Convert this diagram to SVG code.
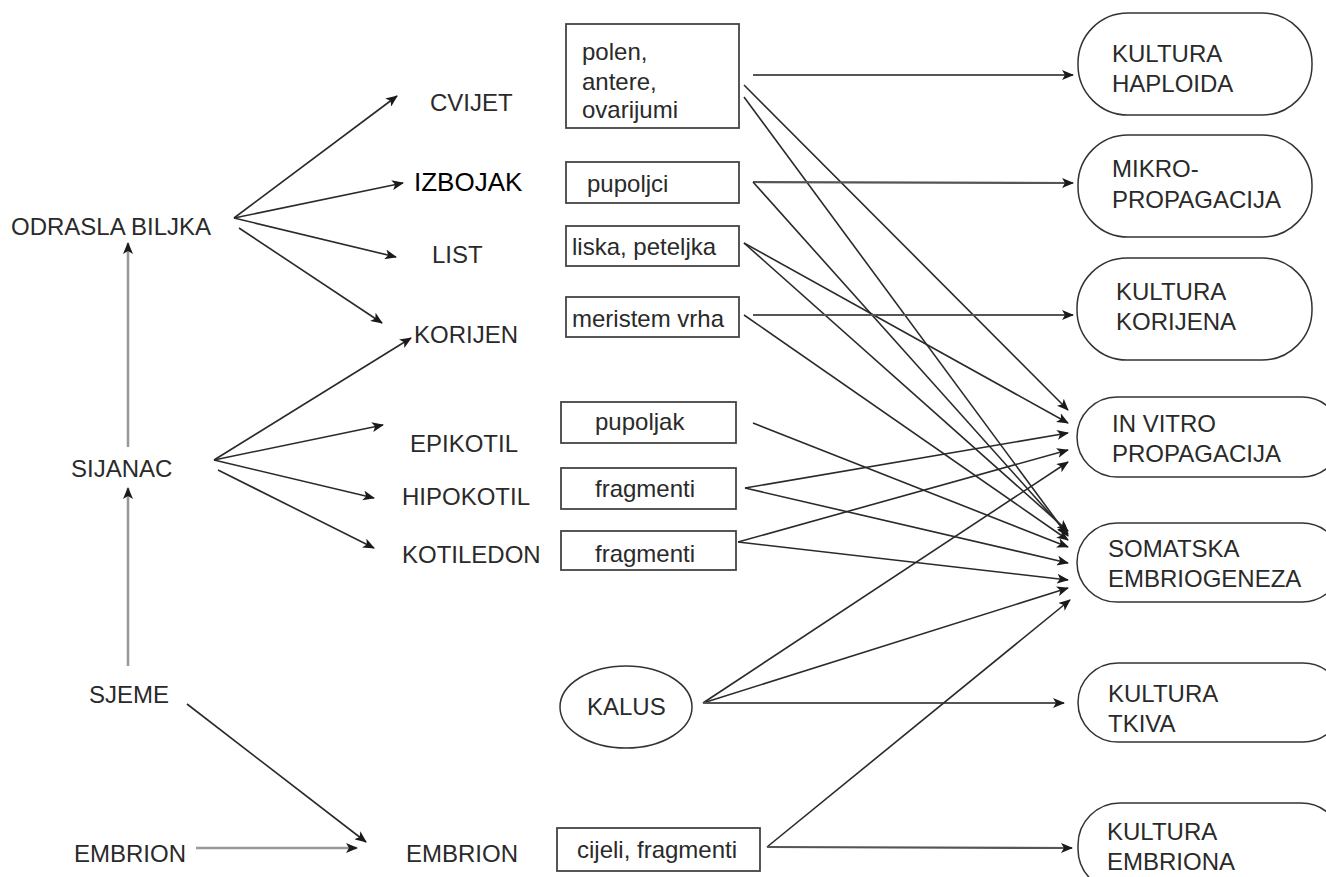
<svg xmlns="http://www.w3.org/2000/svg" width="1326" height="877" viewBox="0 0 1326 877">
<style>
text{font-family:"Liberation Sans",Arial,sans-serif;font-size:24px;fill:#2a2a2a}
.big{font-size:26px;fill:#000}
.box{fill:#fff;stroke:#444;stroke-width:1.8}
.pill{fill:#fff;stroke:#333;stroke-width:1.5}
.ln{stroke:#2a2a2a;stroke-width:1.6;fill:none;marker-end:url(#ah)}
.hz{stroke:#555;stroke-width:2.2;fill:none;marker-end:url(#ah)}
.gr{stroke:#999;stroke-width:2.6;fill:none;marker-end:url(#ah)}
</style>
<defs>
<marker id="ah" markerUnits="userSpaceOnUse" markerWidth="12" markerHeight="10" refX="11" refY="5" orient="auto">
<path d="M0,0 L12,5 L0,10 L3,5 z" fill="#1a1a1a"/>
</marker>
</defs>
<rect width="1326" height="877" fill="#fff"/>

<g id="connectors">
<path class="ln" d="M234,218 L397,96"/>
<path class="ln" d="M234,218 L403,183"/>
<path class="ln" d="M234,218 L396,257"/>
<path class="ln" d="M239,228 L382,323"/>
<path class="gr" d="M128,447 L128,243"/>
<path class="ln" d="M214,460 L411,338"/>
<path class="ln" d="M214,460 L383,425"/>
<path class="ln" d="M214,460 L374,498"/>
<path class="ln" d="M218,470 L374,548"/>
<path class="gr" d="M128,666 L128,488"/>
<path class="ln" d="M187,704 L366,842"/>
<path class="gr" d="M196,848 L357,848"/>

<path class="hz" d="M753,75 L1073,75"/>
<path class="ln" d="M744,85 L1068,410"/>
<path class="ln" d="M744,97 L1068,536"/>
<path class="hz" d="M753,182 L1073,183"/>
<path class="ln" d="M753,182 L1068,534"/>
<path class="ln" d="M744,243 L1068,423"/>
<path class="ln" d="M744,243 L1068,531"/>
<path class="hz" d="M753,315 L1073,315"/>
<path class="ln" d="M744,315 L1068,540"/>
<path class="ln" d="M753,423 L1068,547"/>
<path class="ln" d="M745,488 L1068,433"/>
<path class="ln" d="M745,488 L1068,563"/>
<path class="ln" d="M738,542 L1068,450"/>
<path class="ln" d="M738,542 L1068,580"/>
<path class="ln" d="M703,703 L1068,462"/>
<path class="ln" d="M703,703 L1068,588"/>
<path class="hz" d="M703,703 L1064,703"/>
<path class="ln" d="M767,847 L1070,600"/>
<path class="hz" d="M767,847 L1072,848"/>
</g>

<g id="odrasla"><text x="11" y="235">ODRASLA BILJKA</text></g>
<g id="sijanac"><text x="71" y="477">SIJANAC</text></g>
<g id="sjeme"><text x="89" y="703">SJEME</text></g>
<g id="embrion1"><text x="74" y="862">EMBRION</text></g>
<g id="cvijet"><text x="430" y="111">CVIJET</text></g>
<g id="izbojak"><text class="big" x="414" y="191">IZBOJAK</text></g>
<g id="list"><text x="432" y="263">LIST</text></g>
<g id="korijen"><text x="414" y="343">KORIJEN</text></g>
<g id="epikotil"><text x="410" y="452">EPIKOTIL</text></g>
<g id="hipokotil"><text x="402" y="505">HIPOKOTIL</text></g>
<g id="kotiledon"><text x="402" y="563">KOTILEDON</text></g>
<g id="embrion2"><text x="406" y="862">EMBRION</text></g>

<g id="polen"><rect class="box" x="566" y="24" width="173" height="104"/>
<text x="582" y="60">polen,</text><text x="582" y="90">antere,</text><text x="582" y="118">ovarijumi</text></g>
<g id="pupoljci"><rect class="box" x="566" y="162" width="173" height="41"/><text x="587" y="192">pupoljci</text></g>
<g id="liska"><rect class="box" x="566" y="226" width="173" height="40"/><text x="572" y="255">liska, peteljka</text></g>
<g id="meristem"><rect class="box" x="566" y="297" width="173" height="40"/><text x="572" y="327">meristem vrha</text></g>
<g id="pupoljak"><rect class="box" x="561" y="402" width="175" height="41"/><text x="595" y="430">pupoljak</text></g>
<g id="fragmenti1"><rect class="box" x="561" y="468" width="175" height="41"/><text x="595" y="497">fragmenti</text></g>
<g id="fragmenti2"><rect class="box" x="561" y="531" width="175" height="39"/><text x="595" y="562">fragmenti</text></g>
<g id="kalus"><ellipse class="pill" cx="626" cy="707" rx="66" ry="41"/><text x="587" y="715">KALUS</text></g>
<g id="cijeli"><rect class="box" x="557" y="828" width="203" height="43"/><text x="577" y="858">cijeli, fragmenti</text></g>

<g id="haploida"><rect class="pill" x="1078" y="13" width="234" height="102" rx="50" ry="50"/>
<text x="1112" y="62">KULTURA</text><text x="1112" y="92">HAPLOIDA</text></g>
<g id="mikro"><rect class="pill" x="1078" y="135" width="234" height="102" rx="50" ry="50"/>
<text x="1112" y="177">MIKRO-</text><text x="1112" y="208">PROPAGACIJA</text></g>
<g id="korijena"><rect class="pill" x="1077" y="258" width="235" height="102" rx="50" ry="50"/>
<text x="1116" y="300">KULTURA</text><text x="1116" y="330">KORIJENA</text></g>
<g id="invitro"><rect class="pill" x="1077" y="397" width="265" height="80" rx="40" ry="40"/>
<text x="1112" y="432">IN VITRO</text><text x="1112" y="462">PROPAGACIJA</text></g>
<g id="somatska"><rect class="pill" x="1077" y="523" width="265" height="79" rx="40" ry="40"/>
<text x="1108" y="557">SOMATSKA</text><text x="1108" y="587">EMBRIOGENEZA</text></g>
<g id="tkiva"><rect class="pill" x="1078" y="663" width="265" height="79" rx="40" ry="40"/>
<text x="1108" y="702">KULTURA</text><text x="1108" y="732">TKIVA</text></g>
<g id="embriona"><rect class="pill" x="1078" y="803" width="265" height="88" rx="42" ry="42"/>
<text x="1107" y="840">KULTURA</text><text x="1107" y="870">EMBRIONA</text></g>
</svg>
